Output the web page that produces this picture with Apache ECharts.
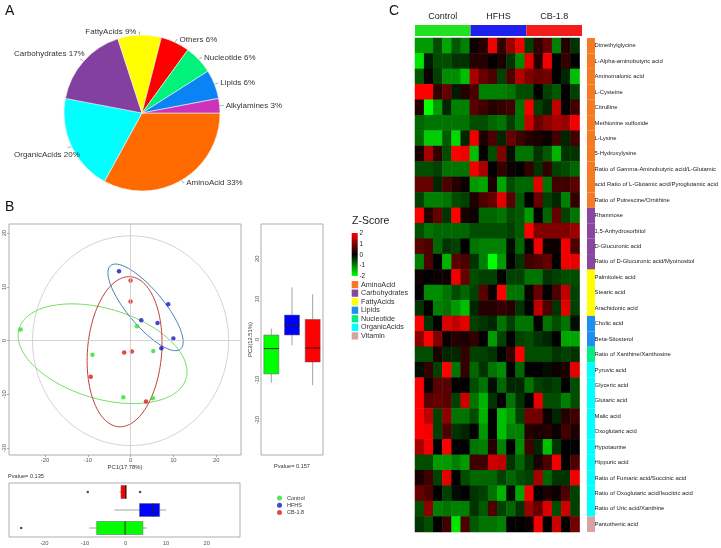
<!DOCTYPE html>
<html><head><meta charset="utf-8">
<script src="https://cdn.jsdelivr.net/npm/echarts/dist/echarts.min.js"></script>
<style>html,body{margin:0;padding:0;background:#fff}#c{width:721px;height:548px}</style>
</head><body><div id="c"></div>
<script>
const FONT = 'Liberation Sans, Arial, sans-serif';

// ---- Panel A: pie ----
const pieNames = ['AminoAcid','OrganicAcids','Carbohydrates','FattyAcids','Others','Nucleotide','Lipids','Alkylamines'];
const piePercents = [33,20,17,9,6,6,6,3];
const pieColors = ['#FF6A00','#00FFFF','#8440A0','#FFFF00','#FF0000','#00F27A','#0A84F5','#CC33BB'];

// ---- Panel B: PCA scores ----
const groups = ['Control','HFHS','CB-1.8'];
const controlPC1 = [-25.7, 1.5, 5.3, -8.9, -1.7, 5.2];
const controlPC2 = [2.1, 2.7, -1.9, -2.6, -10.5, -10.7];
const hfhsPC1 = [-2.7, 8.8, 2.5, 6.3, 10.0, 7.2];
const hfhsPC2 = [12.9, 6.8, 3.8, 3.3, 0.4, -1.4];
const cbPC1 = [0.0, 0.0, -1.5, 0.3, -9.3, 3.6];
const cbPC2 = [11.2, 7.3, -2.2, -2.0, -6.7, -11.3];
const groupColors = ['#2BE02B','#1515CC','#DD1A1A'];
const boxColors = ['#00FF00','#0000FF','#FF0000'];

// ellipses: centre, first and second semi-axis vectors (data units): grey T2 circle, Control, HFHS, CB-1.8
const ellipseCenters = [[0,0],[-6.54,-2.42],[3.5,6.2],[-1.4,-2.05]];
const ellipseAxisA = [[22.9,0],[19.5,-4.65],[8.18,-7.76],[1.4,13.95]];
const ellipseAxisB = [[0,19.5],[3.02,8.02],[3.22,2.16],[8.64,-0.56]];
const ellipseColors = ['#D4D4D4','#77DD66','#3F7FB8','#C24038'];

const pc1Ticks = [-20,-10,0,10,20];
const pc2Ticks = [-20,-10,0,10,20];

// ---- Panel C: heatmap ----
const sampleNames = ['C1','C2','C3','C4','C5','C6','H1','H2','H3','H4','H5','H6','B1','B2','B3','B4','B5','B6'];
const metabolites = ['Dimethylglycine','L-Alpha-aminobutyric acid','Aminomalonic acid','L-Cysteine','Citrulline','Methionine sulfoxide','L-Lysine','5-Hydroxylysine','Ratio of Gamma-Aminobutyric acid/L-Glutamic','acid Ratio of L-Glutamic acid/Pyroglutamic acid','Ratio of Putrescine/Ornithine','Rhamnose','1,5-Anhydrosorbitol','D-Glucuronic acid','Ratio of D-Glucuronic acid/Myoinositol','Palmitoleic acid','Stearic acid','Arachidonic acid','Cholic acid','Beta-Sitosterol','Ratio of Xanthine/Xanthosine','Pyruvic acid','Glyceric acid','Glutaric acid','Malic acid','Oxoglutaric acid','Hypotaurine','Hippuric acid','Ratio of Fumaric acid/Succinic acid','Ratio of Oxoglutaric acid/Isocitric acid','Ratio of Uric acid/Xanthine','Pantothenic acid'];
const metaboliteClass = ['AminoAcid','AminoAcid','AminoAcid','AminoAcid','AminoAcid','AminoAcid','AminoAcid','AminoAcid','AminoAcid','AminoAcid','AminoAcid','Carbohydrates','Carbohydrates','Carbohydrates','Carbohydrates','FattyAcids','FattyAcids','FattyAcids','Lipids','Lipids','Nucleotide','OrganicAcids','OrganicAcids','OrganicAcids','OrganicAcids','OrganicAcids','OrganicAcids','OrganicAcids','OrganicAcids','OrganicAcids','OrganicAcids','Vitamin'];
const classNames = ['AminoAcid','Carbohydrates','FattyAcids','Lipids','Nucleotide','OrganicAcids','Vitamin'];
const classColors = ['#F57A22','#8A46A0','#FFFF00','#1E8FF0','#00EE86','#00FFFF','#D8A2A2'];
const zTicks = [2,1,0,-1,-2];
const heatValues = [
[-1.2,-1.2,-0.6,-1.3,-0.7,-1.0, 0.1,0.3,1.9,0.4,1.2,1.9, -0.5,0.4,0.8,-1.0,0.3,-0.4],
[-1.8,-0.2,-0.6,-0.6,-0.4,-0.4, 0.3,0.3,0.0,0.2,-0.4,-1.1, 1.8,0.3,1.9,0.0,0.4,0.0],
[-0.7,0.1,-0.5,-1.1,-1.1,-1.5, 1.3,0.8,0.6,-0.5,0.6,1.4, 1.0,0.8,0.9,0.0,-0.3,-1.5],
[2.0,2.0,0.4,0.8,-0.2,0.3, 0.6,-1.0,-1.0,-1.0,-0.9,-0.6, -0.6,0.0,-0.5,-0.7,0.0,-0.5],
[0.3,-2.0,-1.2,-0.3,-1.0,-1.0, 0.7,0.5,0.3,0.4,0.5,-0.9, 1.9,-0.5,-0.3,1.5,0.0,0.5],
[-0.8,-0.9,-0.9,-0.9,-0.9,-0.9, -0.6,-0.6,-0.8,-0.9,-0.5,-0.9, 1.6,0.8,1.1,1.3,1.2,1.9],
[-0.8,-1.6,-1.6,-0.7,-1.7,-0.3, 1.9,0.2,0.6,-0.3,0.8,0.5, 0.3,0.2,0.1,0.5,-0.3,0.5],
[0.2,1.3,0.4,-0.6,2.0,1.9, -1.5,0.0,-0.6,1.0,-0.1,-0.9, -0.9,-0.4,-0.7,-1.4,-0.4,-0.4],
[-0.6,-0.6,-0.5,-0.9,-0.9,-0.9, 1.9,1.3,0.0,0.4,0.1,0.0, 0.4,-0.4,0.4,-0.5,-0.6,-0.8],
[0.8,0.8,-0.3,0.6,0.3,0.1, -1.2,-1.3,0.2,-1.3,-0.6,-0.8, -0.8,1.8,-0.9,0.5,0.5,0.7],
[-0.5,-1.0,-1.0,-0.9,-0.6,-0.5, 0.2,0.6,0.8,1.8,0.7,-0.7, 0.0,0.8,-0.5,-0.3,-1.0,0.4],
[2.0,0.3,0.8,-0.4,2.0,0.2, 0.1,-0.8,-0.8,-0.9,-0.6,-0.7, -1.2,0.0,-0.8,0.8,-0.5,-0.9],
[-0.6,-0.9,-0.8,-0.8,-0.8,-0.8, -0.6,-0.6,-0.6,-0.6,-0.5,-0.7, 2.0,1.0,1.0,1.0,1.0,1.2],
[0.7,0.6,-0.8,-0.4,-0.5,0.0, -0.9,-1.0,-1.0,-1.0,-0.1,-0.8, 0.0,1.9,0.1,0.1,1.9,0.6],
[-1.0,0.6,0.0,-1.4,0.7,0.6, -0.4,-1.0,-2.0,-1.2,0.0,-0.4, 0.5,0.6,0.8,0.0,1.9,1.8],
[0.1,0.0,0.1,0.1,1.9,0.8, -0.6,-0.5,-0.5,0.0,-0.5,-0.5, -0.9,-0.9,-0.4,-0.5,-0.6,-0.6],
[0.0,-1.1,-1.1,-0.9,-0.6,-0.8, -0.5,0.7,0.1,2.0,-0.9,-0.9, 0.1,0.8,0.0,0.6,1.5,-0.5],
[-0.4,0.0,-1.0,-0.9,-1.2,-1.5, -0.3,0.3,0.3,0.4,0.3,-0.4, 0.0,1.5,0.6,-0.4,1.8,-0.5],
[2.0,-0.4,0.0,1.7,1.5,1.8, -0.5,-0.4,-0.3,-0.9,-0.5,-0.9, -0.9,0.0,-0.9,-0.6,-0.9,-0.1],
[1.1,2.0,1.0,0.1,0.3,0.2, 0.4,0.0,-1.2,-0.5,0.0,-0.5, -0.6,-0.4,-0.3,0.0,-1.3,-1.3],
[-0.6,-0.6,0.2,-0.3,-0.3,0.4, -0.5,-0.5,-0.4,0.0,0.4,2.0, -0.6,-0.6,-0.6,-0.4,-0.5,-0.4],
[-0.1,0.4,-0.5,2.0,-0.9,0.4, -0.8,-0.4,-0.9,-1.1,0.0,-0.8, 0.0,0.0,-0.1,0.1,0.2,1.8],
[2.0,0.1,0.7,0.7,0.0,0.0, -0.6,-0.9,-0.1,-0.8,-0.3,-0.3, -0.9,-0.5,-0.4,-0.5,0.0,-0.6],
[2.0,0.7,0.8,0.7,-0.5,1.6, -0.9,-1.4,-0.4,0.0,-0.9,-0.4, 0.0,1.8,-0.6,-0.6,-1.0,-0.6],
[2.0,1.5,-0.5,1.1,-0.9,-0.9, -0.6,-1.4,0.0,-1.5,-1.2,-0.5, 0.9,0.9,0.1,-0.3,0.3,0.5],
[2.0,1.9,-0.5,0.6,-0.4,-0.3, 0.0,-1.2,0.0,-1.5,-1.0,-1.0, 0.3,0.2,0.3,0.1,0.5,0.2],
[1.3,1.9,0.0,2.0,0.0,0.0, -0.9,-1.0,0.3,-1.0,0.0,-1.1, 0.5,-0.3,-1.5,-0.4,0.0,0.0],
[-0.6,-0.6,-1.2,-1.2,-1.0,-1.2, 0.5,0.5,1.6,1.5,-0.4,-0.8, -0.4,0.2,0.6,1.9,0.0,0.6],
[0.2,0.5,-0.5,1.8,0.0,-0.6, -0.8,-0.8,-0.8,-0.5,-0.8,-0.6, -0.5,1.3,-0.8,-0.4,-0.4,1.9],
[0.8,0.6,0.0,-0.5,-0.1,0.0, -0.4,-0.5,-0.9,-1.4,-0.1,-1.3, 1.9,0.0,0.2,0.1,0.6,-0.5],
[-0.6,1.1,-1.0,-0.9,-1.0,-1.0, -0.4,-0.7,0.6,-0.5,-0.8,-0.4, 1.2,0.8,1.7,-0.6,1.6,-0.5],
[-0.4,-0.6,0.0,0.5,-1.8,0.6, -0.7,-0.9,-0.9,-1.0,0.0,0.0, 0.1,1.9,0.0,1.6,0.0,0.9]
];
const groupBarColors = ['#22E022','#1F1FEE','#F21C1C'];

// ---------- helpers ----------
function q7(s, p){ const h=(s.length-1)*p, lo=Math.floor(h); const hi=Math.min(lo+1,s.length-1); return s[lo]+(h-lo)*(s[hi]-s[lo]); }
function boxStats(vals){
  const s=[...vals].sort((a,b)=>a-b);
  const q1=q7(s,0.25), med=q7(s,0.5), q3=q7(s,0.75), iqr=q3-q1;
  const lf=q1-1.5*iqr, hf=q3+1.5*iqr;
  const inside=s.filter(v=>v>=lf && v<=hf);
  return {box:[inside[0],q1,med,q3,inside[inside.length-1]], out:s.filter(v=>v<lf||v>hf)};
}
const pc1Sets=[controlPC1,hfhsPC1,cbPC1], pc2Sets=[controlPC2,hfhsPC2,cbPC2];
const pc1Box=pc1Sets.map(boxStats), pc2Box=pc2Sets.map(boxStats);

// box drawn without whisker caps (ggplot style)
function boxRenderer(horizontal, boxW){
  return (params, api)=>{
    const cat=api.value(0), v=[1,2,3,4,5].map(k=>api.value(k));
    const P = val => horizontal ? api.coord([val, cat]) : api.coord([cat, val]);
    const p = v.map(P);
    const h = boxW/2;
    const children=[];
    const line=(a,b,color,w)=>({type:'line', shape:{x1:a[0],y1:a[1],x2:b[0],y2:b[1]}, style:{stroke:color, lineWidth:w}});
    children.push(line(p[0],p[1],'#8a8a8a',0.8));
    children.push(line(p[3],p[4],'#8a8a8a',0.8));
    let rect;
    if(horizontal){ rect={x:Math.min(p[1][0],p[3][0]), y:p[1][1]-h, width:Math.abs(p[3][0]-p[1][0]), height:boxW}; }
    else { rect={x:p[1][0]-h, y:Math.min(p[1][1],p[3][1]), width:boxW, height:Math.abs(p[3][1]-p[1][1])}; }
    children.push({type:'rect', shape:rect, style:{fill:boxColors[params.dataIndex], stroke:'#5a5a5a', lineWidth:0.5}});
    if(horizontal) children.push(line([p[2][0],p[2][1]-h],[p[2][0],p[2][1]+h],'#222',1));
    else children.push(line([p[2][0]-h,p[2][1]],[p[2][0]+h,p[2][1]],'#222',1));
    return {type:'group', children};
  };
}

const tickLabel = {fontSize:5.8, color:'#555', fontFamily:FONT};
const tickStyle = {lineStyle:{color:'#888', width:0.7}};

const series = [];
series.push({
  type:'pie', center:[142,113], radius:78, startAngle:0, clockwise:true, silent:true,
  data: pieNames.map((n,i)=>({name:n, value:piePercents[i], itemStyle:{color:pieColors[i]}})),
  itemStyle:{borderColor:'#f4f4f4', borderWidth:0.6},
  label:{formatter:p=>p.name+' '+p.value+'%', fontSize:8, color:'#333', fontFamily:FONT, overflow:'none', distanceToLabelLine:2},
  labelLine:{length:3, length2:1, lineStyle:{color:'#777', width:0.6}},
  labelLayout: p => {
    const r = p.labelRect;
    if (r.x >= 14) return {};
    return {dx: 14 - r.x, dy: (r.y + r.height/2 < 113) ? -6 : 7};
  }
});
series.push({
  type:'custom', xAxisIndex:0, yAxisIndex:0, silent:true, z:2,
  data: ellipseCenters.map((c,i)=>[c[0],c[1],ellipseAxisA[i][0],ellipseAxisA[i][1],ellipseAxisB[i][0],ellipseAxisB[i][1]]),
  encode:{x:0,y:1},
  renderItem:(params,api)=>{
    const cx=api.value(0),cy=api.value(1),ax=api.value(2),ay=api.value(3),bx=api.value(4),by=api.value(5);
    const pts=[];
    for(let k=0;k<=120;k++){const t=k/120*2*Math.PI;
      pts.push(api.coord([cx+ax*Math.cos(t)+bx*Math.sin(t), cy+ay*Math.cos(t)+by*Math.sin(t)]));}
    return {type:'polyline', shape:{points:pts}, style:{stroke:ellipseColors[params.dataIndex], fill:null, lineWidth:1}};
  },
  markLine:{silent:true, symbol:['none','none'], label:{show:false},
    lineStyle:{color:'#C8C8C8', type:'solid', width:0.8},
    data:[{xAxis:0},{yAxis:0}]}
});
groups.forEach((g,i)=>{
  series.push({type:'scatter', name:g, xAxisIndex:0, yAxisIndex:0, symbolSize:4.5, z:3,
    itemStyle:{color:groupColors[i]},
    data: pc1Sets[i].map((x,k)=>[x, pc2Sets[i][k]])});
});
series.push({type:'custom', name:'pc2box', xAxisIndex:1, yAxisIndex:1, silent:true,
  data: pc2Box.map((b,i)=>[i].concat(b.box)), encode:{x:0, y:[1,2,3,4,5]},
  renderItem: boxRenderer(false, 15)});
series.push({type:'scatter', name:'pc2out', xAxisIndex:1, yAxisIndex:1, symbolSize:2.5, itemStyle:{color:'#222'},
  data: pc2Box.flatMap((b,i)=>b.out.map(v=>[groups[i],v]))});
series.push({type:'custom', name:'pc1box', xAxisIndex:2, yAxisIndex:2, silent:true,
  data: pc1Box.map((b,i)=>[i].concat(b.box)), encode:{y:0, x:[1,2,3,4,5]},
  renderItem: boxRenderer(true, 13)});
series.push({type:'scatter', name:'pc1out', xAxisIndex:2, yAxisIndex:2, symbolSize:2.5, itemStyle:{color:'#222'},
  data: pc1Box.flatMap((b,i)=>b.out.map(v=>[v,groups[i]]))});
const heatIndex = series.length;
series.push({type:'heatmap', xAxisIndex:3, yAxisIndex:3, silent:true,
  data: heatValues.flatMap((row,r)=>row.map((v,c)=>[c,r,v])),
  itemStyle:{borderWidth:0}});
series.push({type:'bar', xAxisIndex:4, yAxisIndex:4, barWidth:'100%', silent:true,
  data: groups.map((g,i)=>({value:1, itemStyle:{color:groupBarColors[i]}}))});
series.push({type:'bar', xAxisIndex:5, yAxisIndex:5, barWidth:'100%', silent:true,
  data: metaboliteClass.map(c=>({value:1, itemStyle:{color:classColors[classNames.indexOf(c)]}}))});

const graphic = [
  {type:'text', x:5, y:4, style:{text:'A', fontSize:14, fontFamily:FONT, fill:'#111'}},
  {type:'text', x:5, y:200, style:{text:'B', fontSize:14, fontFamily:FONT, fill:'#111'}},
  {type:'text', x:389, y:4, style:{text:'C', fontSize:14, fontFamily:FONT, fill:'#111'}},
  {type:'text', x:8, y:476, style:{text:'Pvalue= 0.135', fontSize:5.6, fontFamily:FONT, fill:'#333', verticalAlign:'middle'}},
  {type:'text', x:292, y:466, style:{text:'Pvalue= 0.157', fontSize:5.6, fontFamily:FONT, fill:'#333', verticalAlign:'middle', align:'center'}},
  {type:'text', x:352, y:221, style:{text:'Z-Score', fontSize:10.5, fontFamily:FONT, fill:'#222', verticalAlign:'middle'}},
  {type:'rect', shape:{x:351.7, y:233, width:6, height:43},
   style:{fill:new echarts.graphic.LinearGradient(0,0,0,1,[{offset:0,color:'#FF0000'},{offset:0.5,color:'#000000'},{offset:1,color:'#00FF00'}])}}
];
zTicks.forEach((t,i)=>graphic.push({type:'text', x:359.5, y:233.5+i*10.7,
  style:{text:String(t), fontSize:6.3, fontFamily:FONT, fill:'#222', verticalAlign:'middle'}}));
classNames.forEach((n,i)=>{
  graphic.push({type:'rect', shape:{x:351.7, y:281+i*8.55, width:6.5, height:7.2}, style:{fill:classColors[i]}});
  graphic.push({type:'text', x:361, y:284.7+i*8.55, style:{text:n, fontSize:7.2, fontFamily:FONT, fill:'#333', verticalAlign:'middle'}});
});

const option = {
  animation:false,
  backgroundColor:'#fff',
  textStyle:{fontFamily:FONT},
  legend:{data:groups, orient:'vertical', left:272, top:490, itemWidth:5, itemHeight:5, itemGap:1.2, icon:'circle',
    textStyle:{fontSize:5.5, color:'#333', fontFamily:FONT, lineHeight:6}, selectedMode:false},
  visualMap:{type:'continuous', min:-2, max:2, show:false, seriesIndex:heatIndex,
    inRange:{color:['#00FF00','#000000','#FF0000']}},
  grid:[
    {left:9, top:224, width:232, height:231, show:true, borderColor:'#9a9a9a', borderWidth:0.8},
    {left:261, top:224, width:62, height:231, show:true, borderColor:'#9a9a9a', borderWidth:0.8},
    {left:9, top:483, width:231, height:54, show:true, borderColor:'#9a9a9a', borderWidth:0.8},
    {left:415, top:38, width:167, height:494},
    {left:415, top:25, width:167, height:11},
    {left:587, top:38, width:8, height:494}
  ],
  xAxis:[
    {gridIndex:0, type:'value', min:-28.4, max:25.8, axisLine:{show:false,onZero:false}, splitLine:{show:false},
     axisTick:Object.assign({length:2, customValues:pc1Ticks}, tickStyle),
     axisLabel:Object.assign({customValues:pc1Ticks, margin:2}, tickLabel),
     name:'PC1(17.78%)', nameLocation:'middle', nameGap:7.5, nameTextStyle:{fontSize:5.8, color:'#333', fontFamily:FONT}},
    {gridIndex:1, type:'category', data:groups, show:false},
    {gridIndex:2, type:'value', min:-28.7, max:28.2, axisLine:{show:false,onZero:false}, splitLine:{show:false},
     axisTick:Object.assign({length:2, customValues:pc1Ticks}, tickStyle),
     axisLabel:Object.assign({customValues:pc1Ticks, margin:3}, tickLabel)},
    {gridIndex:3, type:'category', data:sampleNames, show:false},
    {gridIndex:4, type:'category', data:groups, position:'top', axisLine:{show:false}, axisTick:{show:false},
     axisLabel:{fontSize:9, color:'#222', margin:3.5, fontFamily:FONT}},
    {gridIndex:5, type:'value', min:0, max:1, show:false}
  ],
  yAxis:[
    {gridIndex:0, type:'value', min:-21.25, max:21.7, axisLine:{show:false,onZero:false}, splitLine:{show:false},
     axisTick:Object.assign({length:2, customValues:pc2Ticks}, tickStyle),
     axisLabel:Object.assign({customValues:pc2Ticks, rotate:90, margin:2}, tickLabel)},
    {gridIndex:1, type:'value', min:-28.6, max:28.6, axisLine:{show:false,onZero:false}, splitLine:{show:false},
     axisTick:Object.assign({length:2, customValues:pc2Ticks}, tickStyle),
     axisLabel:Object.assign({customValues:pc2Ticks, rotate:90, margin:0.5}, tickLabel),
     name:'PC2(12.51%)', nameLocation:'middle', nameRotate:90, nameGap:4.5, nameTextStyle:{fontSize:5.8, color:'#333', fontFamily:FONT}},
    {gridIndex:2, type:'category', data:groups, show:false},
    {gridIndex:3, type:'category', data:metabolites, inverse:true, position:'right', axisLine:{show:false}, axisTick:{show:false},
     axisLabel:{interval:0, fontSize:5.9, color:'#222', margin:15, fontFamily:FONT}},
    {gridIndex:4, type:'value', min:0, max:1, show:false},
    {gridIndex:5, type:'category', data:metabolites, inverse:true, show:false}
  ],
  series: series,
  graphic: graphic
};
const chart = echarts.init(document.getElementById('c'), null, {renderer:'canvas'});
chart.setOption(option);
</script></body></html>
